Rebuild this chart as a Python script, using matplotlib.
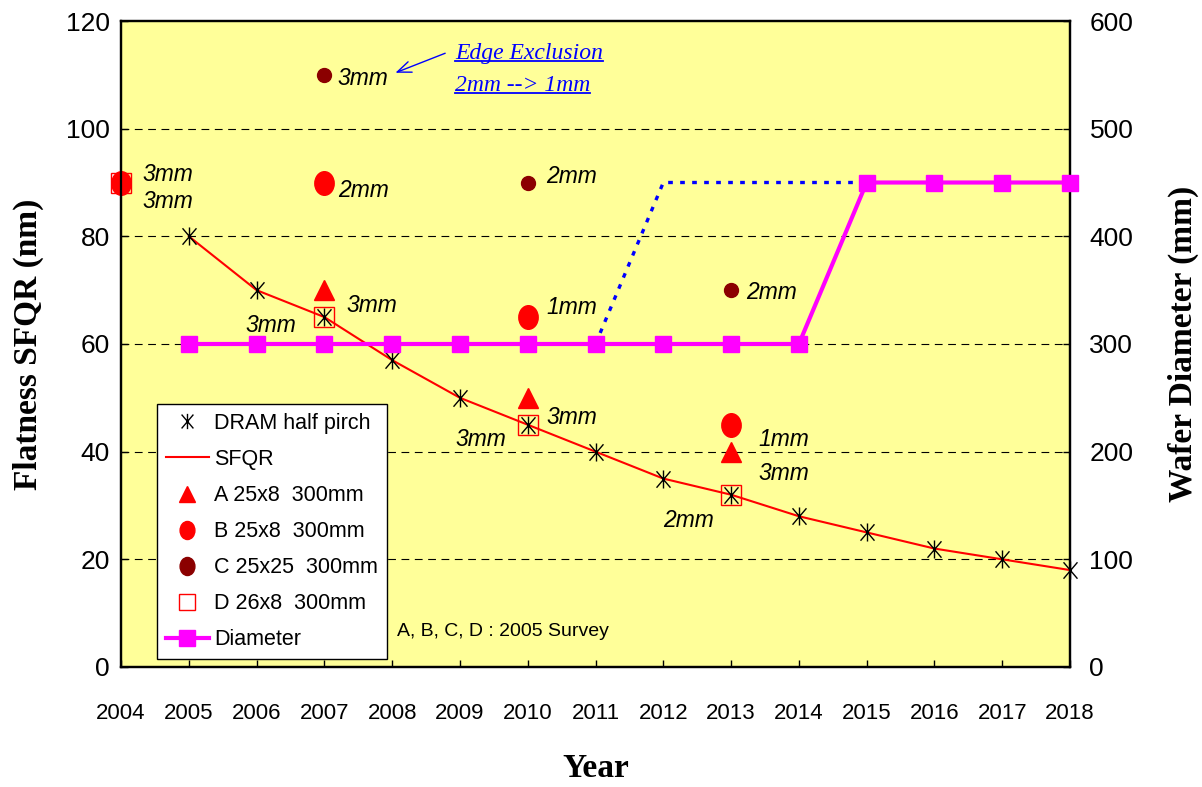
import matplotlib
matplotlib.use("Agg")
import matplotlib.pyplot as plt
from matplotlib.lines import Line2D
from matplotlib.path import Path
import numpy as np

# --- data ---
years = list(range(2004, 2019))
dram_years = list(range(2005, 2019))
dram_half_pitch = [80, 70, 65, 57, 50, 45, 40, 35, 32, 28, 25, 22, 20, 18]

a_years, a_vals = [2007, 2010, 2013], [70, 50, 40]
b_years, b_vals = [2004, 2007, 2010, 2013], [90, 90, 65, 45]
c_years, c_vals = [2007, 2010, 2013], [110, 90, 70]
d_years, d_vals = [2004, 2007, 2010, 2013], [90, 65, 45, 32]

diam_years = list(range(2005, 2019))
diam_vals = [300] * 10 + [450] * 4
alt_years = [2011, 2012, 2015]
alt_vals = [300, 450, 450]

# edge exclusion notes: (x, y, text)
notes = [
    (2004.32, 91.4, "3mm"), (2004.32, 86.4, "3mm"),
    (2007.20, 109.4, "3mm"), (2007.20, 88.6, "2mm"),
    (2005.84, 63.5, "3mm"), (2007.32, 67.1, "3mm"),
    (2010.27, 91.2, "2mm"), (2010.27, 66.7, "1mm"),
    (2010.27, 46.3, "3mm"), (2008.94, 42.2, "3mm"),
    (2013.22, 69.5, "2mm"), (2013.40, 42.2, "1mm"),
    (2013.40, 36.0, "3mm"), (2012.00, 27.3, "2mm"),
]

plt.rcParams["font.family"] = "Liberation Sans"

# Excel-style asterisk: an X with a vertical bar
star = Path([(-0.85, -1), (0.85, 1), (-0.85, 1), (0.85, -1), (0, -1.1), (0, 1.1)],
            [Path.MOVETO, Path.LINETO, Path.MOVETO, Path.LINETO, Path.MOVETO, Path.LINETO])
circ = Path.unit_circle()
oval = Path(circ.vertices * np.array([0.82, 1.0]), circ.codes)

fig = plt.figure(figsize=(12.02, 7.87), dpi=100)
ax = fig.add_axes([0.1007, 0.1525, 0.7895, 0.8208])
ax.set_facecolor("#FFFF99")
ax2 = ax.twinx()

ax.set_xlim(2004, 2018)
ax.set_ylim(0, 120)
ax2.set_ylim(0, 600)
ax.set_xticks(years)
ax.set_yticks(range(0, 121, 20))
ax2.set_yticks(range(0, 601, 100))

for y in range(20, 101, 20):
    ax.axhline(y, color="black", lw=0.8, ls=(0, (7, 5)), zorder=0.5)

for a in (ax, ax2):
    for s in a.spines.values():
        s.set_linewidth(1.6)
        s.set_color("black")
ax.tick_params(axis="x", direction="in", length=5, width=1, pad=26, labelsize=16)
ax.tick_params(axis="y", direction="in", length=5, width=1, pad=8, labelsize=19)
ax2.tick_params(axis="y", direction="in", length=5, width=1, pad=14, labelsize=19)

# SFQR curve and DRAM half pitch points
ax.plot(dram_years, dram_half_pitch, color="red", lw=1.5, zorder=3)
ax.plot(dram_years, dram_half_pitch, ls="none", marker=star, ms=13, mec="black",
        mew=1.0, zorder=4, clip_on=False)

# survey points
ax.plot(d_years, d_vals, ls="none", marker="s", ms=15, mfc="none", mec="red",
        mew=1.0, zorder=5, clip_on=False)
ax.plot(a_years, a_vals, ls="none", marker="^", ms=14, color="red", zorder=5, clip_on=False)
ax.plot(b_years, b_vals, ls="none", marker=oval, ms=17, color="red", zorder=5, clip_on=False)
ax.plot(c_years, c_vals, ls="none", marker="o", ms=10, color="#8B0000", zorder=5, clip_on=False)

for x, y, t in notes:
    ax.text(x, y, t, fontsize=16.5, style="italic", ha="left", va="center", zorder=6)

ax.text(2008.07, 6.5, "A, B, C, D : 2005 Survey", fontsize=14, ha="left", va="center")

# wafer diameter on the right axis
ax2.plot(alt_years, alt_vals, color="blue", lw=2.4, ls=(0, (1.4, 2.2)), zorder=2)
ax2.plot(diam_years, diam_vals, color="magenta", lw=3, marker="s", ms=12, zorder=3,
         clip_on=False)

# edge exclusion note with arrow
ax.annotate("", xy=(2008.01, 110.2), xytext=(2008.82, 114.2),
            arrowprops=dict(arrowstyle="->,head_length=1.0,head_width=0.4", color="blue", lw=1))
note1 = ax.text(2008.93, 113.9, "Edge Exclusion", family="Liberation Serif", style="italic",
                fontsize=17, color="blue", ha="left", va="center")
note2 = ax.text(2008.93, 108.1, "2mm --> 1mm", family="Liberation Serif", style="italic",
                fontsize=17, color="blue", ha="left", va="center")

ax.set_xlabel("Year", family="Liberation Serif", fontweight="bold", fontsize=24, labelpad=21)
ax.set_ylabel("Flatness SFQR (nm)", family="Liberation Serif", fontweight="bold",
              fontsize=24, labelpad=16)
ax2.set_ylabel("Wafer Diameter (mm)", family="Liberation Serif", fontweight="bold",
               fontsize=24, labelpad=25)

handles = [
    Line2D([], [], ls="none", marker=star, ms=11, mec="black", mew=1.0),
    Line2D([], [], color="red", lw=1.5),
    Line2D([], [], ls="none", marker="^", ms=11, color="red"),
    Line2D([], [], ls="none", marker=oval, ms=13, color="red"),
    Line2D([], [], ls="none", marker=oval, ms=13, color="#8B0000"),
    Line2D([], [], ls="none", marker="s", ms=11, mfc="white", mec="red", mew=1.0),
    Line2D([], [], color="magenta", lw=3, marker="s", ms=11),
]
labels = ["DRAM half pirch", "SFQR", "A 25x8  300mm", "B 25x8  300mm",
          "C 25x25  300mm", "D 26x8  300mm", "Diameter"]
leg = ax2.legend(handles, labels, loc="lower left", bbox_to_anchor=(0.038, 0.0124),
                 borderaxespad=0, fontsize=15.5, frameon=True, fancybox=False,
                 edgecolor="black", facecolor="white", framealpha=1, handlelength=2.0,
                 handletextpad=0.25, labelspacing=0.7, borderpad=0.4)
leg.get_frame().set_linewidth(1.0)
leg.set_zorder(10)

# underline the edge exclusion note
fig.canvas.draw()
renderer = fig.canvas.get_renderer()
W, H = fig.get_size_inches() * fig.dpi
for t in (note1, note2):
    bb = t.get_window_extent(renderer)
    yline = (bb.y0 + 3) / H
    fig.add_artist(Line2D([bb.x0 / W, bb.x1 / W], [yline, yline], color="blue", lw=1.3))

fig.savefig("out.png", dpi=100, facecolor="white")
